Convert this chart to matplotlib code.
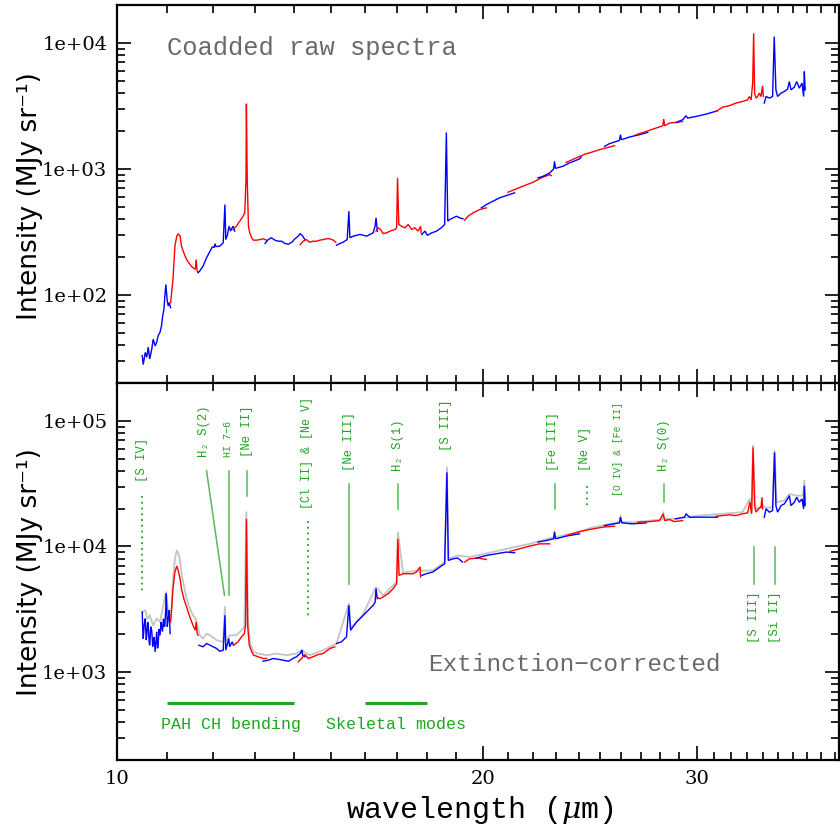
import matplotlib
matplotlib.use("Agg")
import matplotlib.pyplot as plt
from matplotlib.ticker import FixedLocator, NullFormatter, LogLocator, FuncFormatter

# ---------------- raw coadded spectrum (MJy/sr), alternating orders ----------------
raw_w1 = [10.49, 10.51, 10.55, 10.58, 10.61, 10.64, 10.68, 10.71, 10.75, 10.78, 10.81, 10.85, 10.88, 10.90, 10.93, 10.95, 10.97, 11.00, 11.02, 11.04, 11.07]
raw_f1 = [33, 28, 35, 32, 38.5, 31, 37, 44.5, 39.4, 41.9, 47.3, 50.6, 56.7, 66.1, 76.9, 98, 121, 89.5, 81.7, 86.9, 79.3]
raw_w2 = [11.07, 11.12, 11.16, 11.20, 11.23, 11.27, 11.30, 11.35, 11.41, 11.48, 11.55, 11.60, 11.62, 11.64, 11.66]
raw_f2 = [86.9, 133, 244, 293, 306, 293, 244, 216, 191, 175, 164, 160, 191, 155, 152]
raw_w3 = [11.66, 11.70, 11.77, 11.85, 11.93, 11.98, 12.02, 12.04, 12.06, 12.15, 12.23, 12.27, 12.29, 12.33, 12.35, 12.37, 12.40, 12.46, 12.50]
raw_f3 = [150, 155, 169, 197, 223, 240, 238, 255, 242, 244, 259, 521, 275, 300, 331, 351, 321, 351, 321]
raw_w4 = [12.46, 12.54, 12.62, 12.70, 12.74, 12.77, 12.78, 12.80, 12.83, 12.86, 12.91, 12.95, 13.03, 13.11, 13.19, 13.28]
raw_f4 = [330, 351, 385, 421, 448, 823, 3290, 823, 351, 311, 284, 272, 272, 275, 279, 272]
raw_w5 = [13.24, 13.32, 13.40, 13.49, 13.57, 13.66, 13.75, 13.84, 13.93, 14.01, 14.10, 14.15, 14.22, 14.28]
raw_f5 = [256, 275, 284, 272, 267, 267, 256, 253, 262, 279, 293, 307, 293, 275]
raw_w6 = [14.15, 14.23, 14.32, 14.41, 14.50, 14.60, 14.69, 14.78, 14.88, 14.97, 15.07, 15.14]
raw_f6 = [250, 267, 275, 262, 267, 267, 272, 275, 279, 279, 272, 262]
raw_w7 = [15.16, 15.26, 15.35, 15.47, 15.52, 15.55, 15.65, 15.85, 16.05, 16.15, 16.25, 16.31, 16.34, 16.38]
raw_f7 = [248, 256, 262, 275, 462, 284, 293, 302, 293, 302, 311, 351, 409, 321]
raw_w8 = [16.34, 16.41, 16.48, 16.56, 16.67, 16.78, 16.94, 16.99, 17.02, 17.06, 17.15, 17.26, 17.37, 17.48, 17.59, 17.70, 17.78, 17.80]
raw_f8 = [321, 341, 331, 307, 311, 321, 331, 341, 849, 362, 351, 341, 362, 331, 341, 321, 351, 311]
raw_w9 = [17.82, 17.93, 18.01, 18.16, 18.33, 18.49, 18.61, 18.67, 18.72, 18.79, 18.91, 19.03, 19.15, 19.27]
raw_f9 = [302, 321, 297, 311, 321, 341, 362, 1950, 385, 397, 409, 421, 409, 402]
raw_w10 = [19.33, 19.45, 19.64, 19.89, 20.14]
raw_f10 = [392, 421, 448, 476, 491]
raw_w11 = [19.95, 20.14, 20.39, 20.65, 20.92, 21.25]
raw_f11 = [491, 521, 554, 589, 615, 646]
raw_w12 = [20.98, 21.32, 21.65, 22.00, 22.35, 22.71, 22.78]
raw_f12 = [653, 695, 738, 783, 849, 901, 885]
raw_w13 = [22.21, 22.42, 22.71, 22.88, 22.92, 22.96, 23.28, 23.58, 24.03, 24.11]
raw_f13 = [849, 873, 929, 1000, 1148, 1010, 1049, 1116, 1200, 1245]
raw_w14 = [23.43, 23.88, 24.34, 24.49, 24.96, 25.68]
raw_f14 = [1127, 1222, 1322, 1340, 1422, 1529]
raw_w15 = [25.20, 25.43, 25.92, 25.97, 26.02, 26.42, 26.92, 27.35]
raw_f15 = [1510, 1586, 1684, 1869, 1706, 1792, 1869, 1950]
raw_w16 = [26.76, 27.27, 27.79, 28.14, 28.19, 28.24, 28.50, 28.86, 29.22]
raw_f16 = [1869, 1985, 2112, 2201, 2487, 2201, 2313, 2339, 2381]
raw_w17 = [28.86, 29.22, 29.41, 29.50, 29.97, 30.55, 31.22]
raw_f17 = [2339, 2457, 2642, 2533, 2608, 2724, 2895]
raw_w18 = [31.13, 31.52, 31.92, 32.33, 32.73, 33.05, 33.16, 33.27, 33.37, 33.43, 33.49, 33.58, 33.68, 33.79, 33.90, 34.00, 34.05]
raw_f18 = [2858, 3096, 3172, 3332, 3430, 3537, 3757, 3537, 4850, 11940, 3996, 3648, 3757, 3996, 3757, 4566, 3757]
raw_w19 = [34.11, 34.22, 34.44, 34.65, 34.76, 34.87, 34.98, 35.21, 35.43, 35.65, 35.77, 35.88, 36.11, 36.27, 36.45, 36.64, 36.75, 36.80, 36.86]
raw_f19 = [3332, 3757, 3648, 3757, 11220, 4242, 3757, 3996, 4115, 4300, 4940, 4242, 4460, 4940, 4377, 4797, 3757, 5927, 4242]

# ---------------- extinction-corrected spectrum (MJy/sr) ----------------
cor_w1 = [10.49, 10.50, 10.51, 10.53, 10.55, 10.57, 10.58, 10.60, 10.61, 10.63, 10.64, 10.66, 10.68, 10.70,
          10.71, 10.73, 10.75, 10.77, 10.78, 10.80, 10.81, 10.83, 10.85, 10.87, 10.88, 10.90, 10.92, 10.94,
          10.95, 10.97, 10.98, 11.00, 11.02, 11.04, 11.06]
cor_f1 = [3013, 2200, 1850, 2400, 2667, 1800, 1966, 2500, 2360, 1700, 1638, 2300, 2155, 1600,
          1742, 1900, 1452, 1800, 2093, 1550, 1638, 2200, 1966, 2500, 2360, 2100, 2667, 2300,
          2360, 3300, 4214, 2300, 2667, 3105, 2028]
cor_w2 = [11.07, 11.12, 11.16, 11.20, 11.23, 11.27, 11.30, 11.35, 11.41, 11.48, 11.55, 11.60, 11.62, 11.64, 11.66]
cor_f2 = [2512, 4617, 6266, 6988, 6450, 5541, 4617, 3843, 3303, 2752, 2360, 2155, 2512, 2050, 1966]
cor_w3 = [11.68, 11.77, 11.85, 11.93, 12.00, 12.08, 12.15, 12.23, 12.27, 12.29, 12.33, 12.36, 12.38, 12.44, 12.47]
cor_f3 = [1638, 1591, 1690, 1638, 1591, 1542, 1468, 1495, 2833, 1495, 1690, 1850, 1591, 1742, 1638]
cor_w4 = [12.47, 12.58, 12.66, 12.73, 12.76, 12.78, 12.81, 12.85, 12.91, 12.96, 13.07, 13.19, 13.28]
cor_f4 = [1638, 1742, 1908, 2028, 2360, 16600, 2360, 1638, 1452, 1364, 1325, 1285, 1285]
cor_w5 = [13.19, 13.32, 13.44, 13.57, 13.70, 13.84, 13.96, 14.05, 14.15, 14.20, 14.22, 14.28]
cor_f5 = [1222, 1245, 1285, 1268, 1245, 1222, 1285, 1325, 1406, 1500, 1364, 1325]
cor_w6 = [14.10, 14.19, 14.28, 14.37, 14.50, 14.64, 14.78, 14.97, 15.11]
cor_f6 = [1209, 1285, 1381, 1285, 1325, 1381, 1406, 1542, 1590]
cor_w7 = [15.16, 15.30, 15.45, 15.52, 15.57, 15.75, 15.95, 16.15, 16.25, 16.31, 16.34, 16.38]
cor_f7 = [1690, 1742, 1908, 3404, 2155, 2512, 2833, 3204, 3404, 3600, 4617, 3843]
cor_w8 = [16.35, 16.46, 16.56, 16.72, 16.88, 16.99, 17.03, 17.07, 17.20, 17.37, 17.53, 17.64, 17.76, 17.78]
cor_f8 = [3966, 3843, 3966, 4214, 4617, 5058, 11510, 5888, 6073, 6073, 6073, 6266, 6870, 5715]
cor_w9 = [17.82, 17.97, 18.20, 18.44, 18.61, 18.69, 18.74, 18.91, 19.08, 19.25]
cor_f9 = [5888, 6073, 6266, 6870, 7286, 38900, 7744, 7985, 8090, 7521]
cor_w10 = [19.33, 19.51, 19.83, 20.14]
cor_f10 = [7521, 7985, 8090, 7880]
cor_w11 = [19.76, 20.14, 20.52, 20.92, 21.25]
cor_f11 = [8090, 8485, 8750, 9030, 8910]
cor_w12 = [21.05, 21.45, 21.86, 22.28, 22.71]
cor_f12 = [9128, 9590, 10070, 10500, 10500]
cor_w13 = [22.21, 22.56, 22.88, 22.92, 22.96, 23.43, 24.03]
cor_f13 = [10840, 11160, 11510, 13010, 11510, 12100, 12620]
cor_w14 = [23.43, 24.03, 24.49, 25.12, 25.68]
cor_f14 = [12220, 13150, 13650, 14260, 14520]
cor_w15 = [25.20, 25.92, 25.97, 26.04, 26.55, 27.27]
cor_f15 = [14680, 15420, 17110, 15420, 15140, 15420]
cor_w16 = [26.84, 27.44, 27.96, 28.16, 28.24, 28.50, 28.77, 29.22]
cor_f16 = [15620, 15780, 16080, 18200, 16080, 16380, 15780, 16080]
cor_w17 = [28.82, 29.32, 29.41, 29.60, 30.16, 30.74, 31.22]
cor_f17 = [16600, 17110, 18200, 17110, 17110, 17110, 17110]
cor_w18 = [31.13, 31.52, 31.92, 32.33, 32.73, 33.05, 33.19, 33.30, 33.39, 33.49, 33.58, 33.74, 33.90, 33.96, 34.00]
cor_f18 = [17420, 17620, 17850, 17620, 18200, 18510, 22510, 18200, 61500, 21150, 18760, 19920, 20540, 24660, 19920]
cor_w19 = [34.11, 34.22, 34.44, 34.65, 34.78, 34.87, 34.98, 35.21, 35.43, 35.65, 35.77, 35.88, 36.11, 36.27, 36.45, 36.64, 36.75, 36.80, 36.86]
cor_f19 = [17110, 19920, 18760, 19310, 56100, 21150, 18760, 21150, 21830, 23910, 25400, 21150, 22510, 24660, 22510, 23910, 19920, 30480, 21150]

# alternative (stronger) extinction correction, drawn in grey underneath
alt_w = [10.49, 10.55, 10.59, 10.64, 10.71, 10.78, 10.85, 10.92, 10.97, 11.02, 11.08, 11.12, 11.16, 11.20,
         11.23, 11.27, 11.30, 11.35, 11.41, 11.48, 11.55, 11.61, 11.66, 11.70, 11.77, 11.85, 11.93, 12.08,
         12.23, 12.27, 12.29, 12.38, 12.54, 12.66, 12.73, 12.78, 12.82, 12.86, 12.95, 13.07, 13.28, 13.53,
         13.79, 14.05, 14.19, 14.41, 14.78, 15.16, 15.52, 15.57, 15.85, 15.95, 16.34, 16.56, 16.99, 17.03,
         17.20, 17.64, 18.20, 18.61, 18.69, 18.75, 19.08, 19.51, 20.65, 21.86, 22.88, 22.92, 22.96, 24.03,
         24.49, 25.92, 25.97, 26.02, 26.59, 28.11, 28.16, 28.24, 28.86, 30.16, 31.52, 32.73, 33.19, 33.30,
         33.39, 33.52, 33.58, 34.00, 34.22, 34.65, 34.78, 34.92, 35.43, 35.77, 36.22, 36.70, 36.80, 36.86]
alt_f = [3013, 3105, 2667, 2833, 2360, 2667, 2512, 3404, 4345, 3013, 2667, 5541, 7985, 9293,
         8910, 7744, 6073, 4900, 3843, 3204, 2833, 2667, 2222, 1966, 1850, 2028, 1966, 1795,
         1742, 3303, 1742, 1966, 1966, 2155, 2291, 18760, 2667, 1742, 1452, 1406, 1364, 1406,
         1364, 1406, 1495, 1364, 1495, 1690, 3508, 2250, 2667, 2924, 4760, 4083, 5218, 13010,
         6200, 6400, 6450, 7521, 42660, 7985, 8485, 8240, 9293, 10500, 11870, 13390, 11870, 13010,
         13990, 15700, 17620, 15700, 15620, 16400, 18760, 16600, 16600, 17620, 18200, 18760, 23910, 18760,
         63330, 21500, 19920, 21150, 20300, 20540, 58000, 22510, 23170, 26180, 25400, 25400, 33420, 23910]

# ---------------- line identifications ----------------
upper_ids = ["[S IV]", "H₂ S(2)", "HI 7−6", "[Ne II]", "[Cl II] & [Ne V]", "[Ne III]",
             "H₂ S(1)", "[S III]", "[Fe III]", "[Ne V]", "[O IV] & [Fe II]", "H₂ S(0)"]
upper_wl = [10.49, 11.79, 12.35, 12.80, 14.34, 15.52, 17.02, 18.67, 22.85, 24.26, 25.86, 28.19]
lower_ids = ["[S III]", "[Si II]"]
lower_wl = [33.47, 34.80]
band_names = ["PAH CH bending", "Skeletal modes"]
band_lo = [11.0, 16.0]
band_hi = [14.0, 18.0]

raw_segments = [(raw_w1, raw_f1), (raw_w2, raw_f2), (raw_w3, raw_f3), (raw_w4, raw_f4), (raw_w5, raw_f5),
                (raw_w6, raw_f6), (raw_w7, raw_f7), (raw_w8, raw_f8), (raw_w9, raw_f9), (raw_w10, raw_f10),
                (raw_w11, raw_f11), (raw_w12, raw_f12), (raw_w13, raw_f13), (raw_w14, raw_f14),
                (raw_w15, raw_f15), (raw_w16, raw_f16), (raw_w17, raw_f17), (raw_w18, raw_f18),
                (raw_w19, raw_f19)]
cor_segments = [(cor_w1, cor_f1), (cor_w2, cor_f2), (cor_w3, cor_f3), (cor_w4, cor_f4), (cor_w5, cor_f5),
                (cor_w6, cor_f6), (cor_w7, cor_f7), (cor_w8, cor_f8), (cor_w9, cor_f9), (cor_w10, cor_f10),
                (cor_w11, cor_f11), (cor_w12, cor_f12), (cor_w13, cor_f13), (cor_w14, cor_f14),
                (cor_w15, cor_f15), (cor_w16, cor_f16), (cor_w17, cor_f17), (cor_w18, cor_f18),
                (cor_w19, cor_f19)]

plt.rcParams["font.family"] = ["DejaVu Serif", "DejaVu Sans"]
plt.rcParams["mathtext.fontset"] = "dejavuserif"

MONO = ["Liberation Mono", "DejaVu Sans Mono"]
GREEN = "#1fa51f"
GREY_TXT = "#6a6a6a"
SEG_COLORS = ["#0000ff", "#ff0000"]

fig = plt.figure(figsize=(8.4, 8.31), dpi=100)
W, H = 840.0, 831.0
ax1 = fig.add_axes([117 / W, 1 - 383 / H, 722 / W, 378 / H])
ax2 = fig.add_axes([117 / W, 1 - 760 / H, 722 / W, 377 / H])


def style_axes(ax, ylim, show_xlabels):
    ax.set_xscale("log")
    ax.set_yscale("log")
    ax.set_xlim(10, 39.3)
    ax.set_ylim(*ylim)
    ax.xaxis.set_major_locator(FixedLocator([10, 20, 30]))
    ax.xaxis.set_minor_locator(FixedLocator([v for v in range(11, 40) if v not in (20, 30)]))
    ax.xaxis.set_minor_formatter(NullFormatter())
    ax.xaxis.set_major_formatter(FuncFormatter(lambda v, p: "%d" % round(v)))
    ax.yaxis.set_major_locator(LogLocator(base=10, numticks=10))
    ax.yaxis.set_minor_locator(LogLocator(base=10, subs=tuple(range(2, 10)), numticks=10))
    ax.yaxis.set_minor_formatter(NullFormatter())
    ax.yaxis.set_major_formatter(FuncFormatter(lambda v, p: "%.0e" % v))
    ax.tick_params(which="both", direction="in", top=True, right=True, width=1.2,
                   labelbottom=show_xlabels)
    ax.tick_params(which="major", length=10, labelsize=14, pad=7)
    ax.tick_params(which="minor", length=5.5)
    for s in ax.spines.values():
        s.set_linewidth(1.6)


style_axes(ax1, (20, 2e4), False)
style_axes(ax2, (200, 2e5), True)

# top panel
for i, (w, f) in enumerate(raw_segments):
    ax1.plot(w, f, color=SEG_COLORS[i % 2], lw=1.0, solid_joinstyle="miter")
ax1.text(0.069, 0.886, "Coadded raw spectra", transform=ax1.transAxes, color=GREY_TXT,
         fontsize=18.4, family=MONO, ha="left", va="center")

# bottom panel
ax2.plot(alt_w, alt_f, color="#c4c4c4", lw=1.3)
for i, (w, f) in enumerate(cor_segments):
    ax2.plot(w, f, color=SEG_COLORS[i % 2], lw=1.0, solid_joinstyle="miter")
ax2.text(0.431, 0.252, "Extinction−corrected", transform=ax2.transAxes, color=GREY_TXT,
         fontsize=17.6, family=MONO, ha="left", va="center")

# identification labels above the spectrum
label_bottom = [32450, 51220, 51220, 51220, 19920, 39900, 39900, 57810, 39900, 39900, 25400, 39900]
label_size = [8.8, 8.8, 7.2, 8.8, 8.4, 8.8, 8.8, 8.8, 8.8, 8.8, 7.0, 8.8]
for name, wl, yb, fs in zip(upper_ids, upper_wl, label_bottom, label_size):
    ax2.text(wl, yb, name, rotation=90, ha="center", va="bottom", color=GREEN, fontsize=fs,
             family=MONO)
for name, wl in zip(lower_ids, lower_wl):
    ax2.text(wl, 4371, name, rotation=90, ha="center", va="top", color=GREEN, fontsize=8.8,
             family=MONO)

# marker ticks for the lines
solid = dict(color=GREEN, lw=1.1, alpha=0.75)
dotted = dict(color=GREEN, lw=1.3, linestyle=(0, (1, 2.2)))
ax2.plot([10.49, 10.49], [25400, 4214], **dotted)
ax2.plot([11.85, 12.26], [40090, 4083], **solid)
ax2.plot([12.36, 12.36], [40090, 4083], **solid)
ax2.plot([12.79, 12.79], [40090, 25400], **solid)
ax2.plot([14.37, 14.37], [16080, 2667], **dotted)
ax2.plot([15.52, 15.52], [31450, 5058], **solid)
ax2.plot([17.02, 17.02], [31450, 19920], **solid)
ax2.plot([22.92, 22.92], [31450, 19920], **solid)
ax2.plot([24.36, 24.36], [30480, 19920], **dotted)
ax2.plot([28.19, 28.19], [31450, 22510], **solid)
ax2.plot([33.47, 33.47], [9890, 5058], **solid)
ax2.plot([34.80, 34.80], [9890, 5058], **solid)

# feature bands
for name, lo, hi in zip(band_names, band_lo, band_hi):
    ax2.plot([lo, hi], [565, 565], color=GREEN, lw=2.2, solid_capstyle="butt")
    ax2.text((lo * hi) ** 0.5, 386, name, ha="center", va="center", color=GREEN, fontsize=12,
             family=MONO)

for yc in (196, 572):
    fig.text(30 / W, 1 - yc / H, "Intensity (MJy sr⁻¹)", rotation=90, ha="center", va="center",
             fontsize=19, family=["DejaVu Sans"])
fig.text(480 / W, 1 - 810 / H, r"wavelength ($\mu$m)", ha="center", va="center", fontsize=21.5,
         family=MONO)

fig.savefig("out.png", dpi=100)
